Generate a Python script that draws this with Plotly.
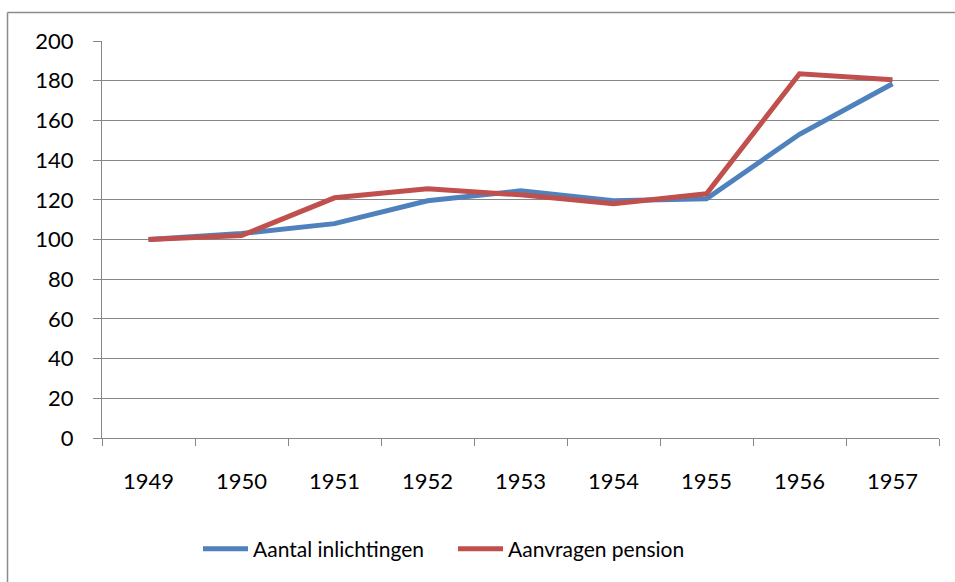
import plotly.graph_objects as go

years = ["1949", "1950", "1951", "1952", "1953", "1954", "1955", "1956", "1957"]
inlichtingen = [100, 103, 108, 119.5, 124.5, 119.5, 120.5, 153, 178.5]
pension = [100, 102, 121, 125.5, 122.5, 118, 123, 183.5, 180.5]

BLUE = "#4F81BD"
RED = "#C0504D"
GRID = "#878787"
FONT = "Lato"

fig = go.Figure()
fig.add_trace(go.Scatter(x=years, y=inlichtingen, mode="lines", name="Aantal inlichtingen",
                         line=dict(color=BLUE, width=5)))
fig.add_trace(go.Scatter(x=years, y=pension, mode="lines", name="Aanvragen pension",
                         line=dict(color=RED, width=5)))

L, R, T, B = 102, 939, 41, 438
W, H = 955, 582
pw, ph = R - L, B - T

def px(x):
    return (x - L) / pw

def py(y):
    return (B - y) / ph

border = dict(color="#8c8c8c", width=1.5)

fig.update_layout(
    width=W, height=H,
    margin=dict(l=L, r=W - R, t=T, b=H - B, autoexpand=False),
    paper_bgcolor="white", plot_bgcolor="white",
    font=dict(family=FONT, size=22, color="black"),
    showlegend=True,
    legend=dict(orientation="h", x=px(198), xanchor="left", y=py(549), yanchor="middle",
                font=dict(size=21), itemwidth=45, entrywidth=195, entrywidthmode="pixels",
                bgcolor="rgba(0,0,0,0)"),
    xaxis=dict(type="category", showgrid=False, showline=True, linecolor=GRID, linewidth=1,
               ticks="outside", tickson="boundaries", ticklen=7, tickcolor=GRID,
               ticklabelstandoff=24, range=[-0.5, 8.5], fixedrange=True),
    yaxis=dict(range=[0, 200], dtick=20, showgrid=True, gridcolor=GRID, gridwidth=1,
               showline=True, linecolor=GRID, linewidth=1, zeroline=False,
               ticks="outside", ticklen=8, tickcolor=GRID, ticklabelstandoff=15),
    shapes=[
        dict(type="line", xref="paper", yref="paper",
             x0=px(7.5), x1=px(7.5), y0=py(600), y1=py(12.5), line=border, layer="below"),
        dict(type="line", xref="paper", yref="paper",
             x0=px(7.5), x1=px(990), y0=py(12.5), y1=py(12.5), line=border, layer="below"),
    ],
)

fig.write_html("out.html", config={"displayModeBar": False},
               post_script="document.body.style.margin='0';document.body.style.overflow='hidden';")
